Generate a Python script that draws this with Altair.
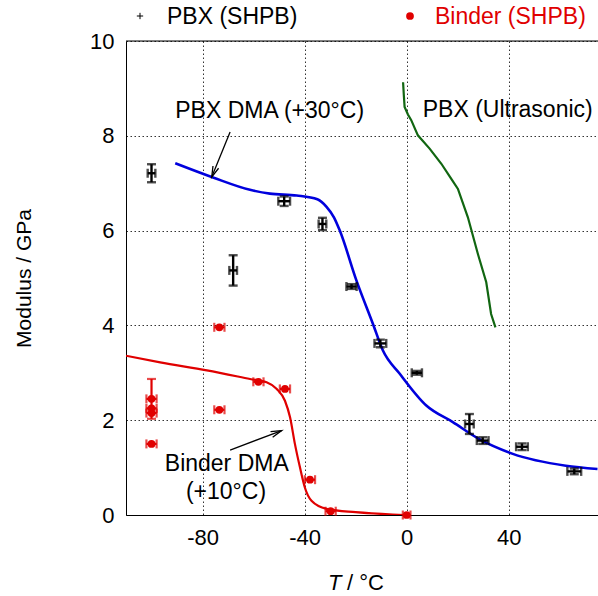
import math
import altair as alt
import pandas as pd

# ---------------- data ----------------
# PBX (SHPB) points
pbx_T    = [-100, -68, -48, -33, -21.6, -10.3, 4.0, 24.6, 29.8, 45.2, 65.7]
pbx_E    = [7.21, 5.16, 6.62, 6.14, 4.82, 3.62, 3.00, 1.92, 1.57, 1.44, 0.92]
pbx_Terr = [1.5, 1.5, 2.3, 1.5, 2.0, 2.3, 2.0, 1.7, 2.3, 2.3, 2.7]
pbx_Eerr = [0.19, 0.32, 0.10, 0.13, 0.05, 0.08, 0.04, 0.21, 0.07, 0.07, 0.06]

# Binder (SHPB) points
bin_T    = [-73.4, -58.1, -47.7, -73.4, -100, -100, -100, -100, -37.9, -29.8, 0.0]
bin_E    = [3.96, 2.81, 2.66, 2.22, 2.45, 2.25, 2.15, 1.50, 0.745, 0.08, 0.0]
bin_Terr = [2.0, 2.0, 2.0, 2.0, 2.0, 2.0, 2.0, 2.0, 2.0, 2.0, 1.5]
bin_Eerr = [0, 0, 0, 0, 0.42, 0, 0, 0, 0, 0, 0]

# PBX DMA (+30 C) curve
pbx_dma_T = [-90.7, -75.9, -61.4, -53.6, -43.1, -35.0, -31.4, -28.5, -26.2, -19.7, -13.2, -9.3,
             -2.7, 7.7, 18.1, 28.5, 41.6, 62.4, 74.8]
pbx_dma_E = [7.42, 7.12, 6.86, 6.78, 6.74, 6.66, 6.50, 6.28, 6.00, 4.95, 4.03, 3.47,
             2.98, 2.31, 1.96, 1.60, 1.29, 1.04, 0.97]

# Binder DMA (+10 C) curve
bin_dma_T = [-110, -96.6, -78.3, -61.4, -54.9, -50.9, -47.7, -45.7, -43.8, -41.8,
             -39.9, -37.3, -31.4, -20, -5.4, -1]
bin_dma_E = [3.36, 3.22, 3.05, 2.87, 2.80, 2.66, 2.41, 2.06, 1.50, 1.00,
             0.58, 0.30, 0.13, 0.06, 0.01, 0.0]

# PBX (Ultrasonic) curve
us_T = [-1.4, -1.1, -0.8, 0.5, 1.8, 4.4, 9.0, 13.6, 17.5, 20.1, 24.0, 27.9, 31.2, 33.1, 34.8]
us_E = [9.13, 8.85, 8.61, 8.45, 8.33, 8.01, 7.73, 7.41, 7.09, 6.88, 6.28, 5.51, 4.91, 4.24, 3.96]

# annotations
ann_text = ["PBX DMA (+30°C)", "PBX (Ultrasonic)", "Binder DMA", "(+10°C)"]
ann_T    = [-53.7, 6.3, -70.5, -70.8]
ann_E    = [8.52, 8.54, 1.08, 0.48]
ann_align = ["center", "left", "center", "center"]
arrow_T0 = [-69.2, -69.2]
arrow_E0 = [8.08, 1.37]
arrow_T1 = [-76.4, -49.0]
arrow_E1 = [7.13, 1.78]

x_ticks = [-80, -40, 0, 40]
y_ticks = [0, 2, 4, 6, 8, 10]

# ---------------- styling ----------------
RED = "#e00000"
BLUE = "#0000dd"
GREEN = "#116611"
FONT = "Liberation Sans"
W, H = 472, 474
XDOM = [-110, 75]
YDOM = [0, 10]
px_per_T = W / (XDOM[1] - XDOM[0])
px_per_E = H / (YDOM[1] - YDOM[0])

xs = alt.Scale(domain=XDOM, nice=False, zero=False)
ys = alt.Scale(domain=YDOM, nice=False)

x_axis = alt.Axis(values=x_ticks, title=None, grid=True, gridDash=[1.5, 2.5],
                  gridColor="#000000", gridOpacity=0.8, ticks=False,
                  labelFontSize=22, labelFont=FONT, labelColor="#000",
                  labelPadding=12, domainColor="#000",
                  labelExpr="toString(datum.value)")
y_axis = alt.Axis(values=y_ticks, title="Modulus / GPa", grid=True, gridDash=[1.5, 2.5],
                  gridColor="#000000", gridOpacity=0.8, ticks=False,
                  labelFontSize=22, labelFont=FONT, labelColor="#000",
                  labelPadding=12, domainColor="#000",
                  labelExpr="toString(datum.value)",
                  titleFont=FONT, titleFontSize=21, titleFontWeight="normal",
                  titleColor="#000", titleX=-102, titleY=H / 2, titleAngle=270,
                  titleAlign="center", titleBaseline="middle")

def X(field):
    return alt.X(field, type="quantitative", scale=xs, axis=x_axis)

def Y(field):
    return alt.Y(field, type="quantitative", scale=ys, axis=y_axis)

def err_df(T, E, Terr, Eerr):
    return pd.DataFrame({
        "T": T, "E": E,
        "Tlo": [t - e for t, e in zip(T, Terr)],
        "Thi": [t + e for t, e in zip(T, Terr)],
        "Elo": [v - e for v, e in zip(E, Eerr)],
        "Ehi": [v + e for v, e in zip(E, Eerr)],
        "Eerr": Eerr,
    })

pbx = err_df(pbx_T, pbx_E, pbx_Terr, pbx_Eerr)
bnd = err_df(bin_T, bin_E, bin_Terr, bin_Eerr)

top = alt.Chart(pd.DataFrame({"E": [10]})).mark_rule(color="#000", strokeWidth=1).encode(y=Y("E"))

def curve(T, E, color, width):
    return alt.Chart(pd.DataFrame({"T": T, "E": E, "i": range(len(T))})).mark_line(
        color=color, strokeWidth=width, clip=True, interpolate="monotone").encode(
        x=X("T"), y=Y("E"), order="i:Q")

pbx_line = curve(pbx_dma_T, pbx_dma_E, BLUE, 2.6)
bin_line = curve(bin_dma_T, bin_dma_E, RED, 2.2)
us_line = alt.Chart(pd.DataFrame({"T": us_T, "E": us_E, "i": range(len(us_T))})).mark_line(
    color=GREEN, strokeWidth=2.2, clip=True).encode(x=X("T"), y=Y("E"), order="i:Q")

def errbars(df, color, sw, cap, vall=False):
    hb = alt.Chart(df).mark_rule(color=color, strokeWidth=sw).encode(
        x=X("Tlo"), x2="Thi", y=Y("E"))
    hc1 = alt.Chart(df).mark_tick(color=color, orient="vertical", size=cap, thickness=sw).encode(
        x=X("Tlo"), y=Y("E"))
    hc2 = alt.Chart(df).mark_tick(color=color, orient="vertical", size=cap, thickness=sw).encode(
        x=X("Thi"), y=Y("E"))
    dv = df if vall else df[df["Eerr"] > 0]
    vb = alt.Chart(dv).mark_rule(color=color, strokeWidth=sw).encode(
        x=X("T"), y=Y("Elo"), y2="Ehi")
    vc1 = alt.Chart(dv).mark_tick(color=color, orient="horizontal", size=cap, thickness=sw).encode(
        x=X("T"), y=Y("Elo"))
    vc2 = alt.Chart(dv).mark_tick(color=color, orient="horizontal", size=cap, thickness=sw).encode(
        x=X("T"), y=Y("Ehi"))
    return [hb, hc1, hc2, vb, vc1, vc2]

pbx_layers = errbars(pbx, "#000", 2.4, 9, vall=True)
bnd_layers = errbars(bnd, RED, 2.2, 9)
bnd_pts = alt.Chart(bnd).mark_point(shape="circle", filled=True, size=60, color=RED, opacity=1).encode(
    x=X("T"), y=Y("E"))

ann = alt.Chart(pd.DataFrame({"t": ann_text, "T": ann_T, "E": ann_E, "a": ann_align}))
ann_c = ann.transform_filter(alt.datum.a == "center").mark_text(
    font=FONT, fontSize=23, color="#000", align="center", baseline="middle").encode(
    x=X("T"), y=Y("E"), text="t:N")
ann_l = ann.transform_filter(alt.datum.a == "left").mark_text(
    font=FONT, fontSize=23, color="#000", align="left", baseline="middle").encode(
    x=X("T"), y=Y("E"), text="t:N")

arr_df = pd.DataFrame({"T0": arrow_T0, "E0": arrow_E0, "T1": arrow_T1, "E1": arrow_E1})
arr_df["ang"] = [
    (math.degrees(math.atan2((t1 - t0) * px_per_T, (e1 - e0) * px_per_E)) + 360) % 360
    for t0, e0, t1, e1 in zip(arrow_T0, arrow_E0, arrow_T1, arrow_E1)
]
shaft = alt.Chart(arr_df).mark_rule(color="#000", strokeWidth=1.3).encode(
    x=X("T0"), y=Y("E0"), x2="T1", y2="E1")
head = alt.Chart(arr_df).mark_point(
    shape="M-0.45,1.6L0,0L0.45,1.6", filled=False, color="#000", strokeWidth=1.3,
    size=180, opacity=1).encode(x=X("T1"), y=Y("E1"), angle=alt.Angle("ang:Q", scale=None))

# legend (outside plot area, top)
leg_plus = alt.Chart(pd.DataFrame({"k": [0]})).mark_point(
    shape="M-1,0H1M0,-1V1", filled=False, color="#000", strokeWidth=1, size=40, opacity=1).encode(
    x=alt.value(14), y=alt.value(-25))
leg_t1 = alt.Chart(pd.DataFrame({"t": ["PBX (SHPB)"]})).mark_text(
    font=FONT, fontSize=23, color="#000", align="left", baseline="middle").encode(
    x=alt.value(41), y=alt.value(-24), text="t:N")
leg_dot = alt.Chart(pd.DataFrame({"k": [0]})).mark_point(
    shape="circle", filled=True, color=RED, size=60, opacity=1).encode(
    x=alt.value(284), y=alt.value(-25))
leg_t2 = alt.Chart(pd.DataFrame({"t": ["Binder (SHPB)"]})).mark_text(
    font=FONT, fontSize=23, color=RED, align="left", baseline="middle").encode(
    x=alt.value(309), y=alt.value(-24), text="t:N")

# x axis title with italic T
xt1 = alt.Chart(pd.DataFrame({"t": ["T"]})).mark_text(
    font=FONT, fontSize=22, fontStyle="italic", color="#000", align="left", baseline="middle").encode(
    x=alt.value(202), y=alt.value(542), text="t:N")
xt2 = alt.Chart(pd.DataFrame({"t": ["/ °C"]})).mark_text(
    font=FONT, fontSize=22, color="#000", align="left", baseline="middle").encode(
    x=alt.value(221), y=alt.value(542), text="t:N")

chart = alt.layer(
    top, bin_line, pbx_line, us_line,
    *pbx_layers, *bnd_layers, bnd_pts,
    ann_c, ann_l, shaft, head,
    leg_plus, leg_t1, leg_dot, leg_t2, xt1, xt2,
).properties(
    width=W, height=H,
    autosize=alt.AutoSizeParams(type="none"),
    padding={"left": 126, "top": 41, "right": 0, "bottom": 81},
).configure_view(stroke=None).configure(background="white")

chart.save("out.html", embed_options={"renderer": "svg", "actions": False})
